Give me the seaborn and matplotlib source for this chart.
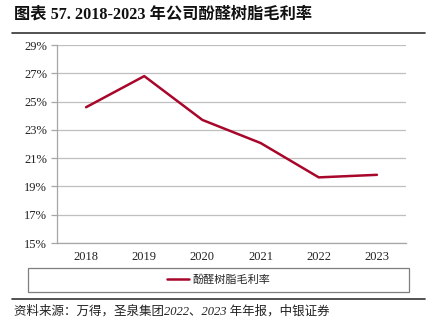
import matplotlib
matplotlib.use("Agg")
import matplotlib.pyplot as plt
import seaborn as sns
import pandas as pd
import numpy as np
from matplotlib.ticker import FixedLocator, FuncFormatter
from matplotlib.patches import Rectangle

years = ["2018", "2019", "2020", "2021", "2022", "2023"]
margin = [24.6, 26.8, 23.7, 22.07, 19.64, 19.82]
series_name = "酚醛树脂毛利率"
title = "图表 57. 2018-2023 年公司酚醛树脂毛利率"
source = "资料来源：万得，圣泉集团2022、2023 年年报，中银证券"
yticks = [15, 17, 19, 21, 23, 25, 27, 29]

sns.set_theme(style="white")
plt.rcParams["font.family"] = ["Liberation Serif", "Noto Sans CJK SC"]

df = pd.DataFrame({"year": years, "margin": margin, "series": series_name})

W, H = 436, 327
fig = plt.figure(figsize=(W / 100, H / 100), dpi=100)
ax = fig.add_axes([57 / W, 1 - 243 / H, 349 / W, 198 / H])

line_color = "#A8072B"
sns.lineplot(data=df, x="year", y="margin", hue="series", palette=[line_color],
             linewidth=1.8, ax=ax, sort=False)

ax.set_xlim(-0.5, len(years) - 0.5)
ax.set_ylim(15, 29)
ax.yaxis.set_major_locator(FixedLocator(yticks))
ax.yaxis.set_major_formatter(FuncFormatter(lambda v, p: f"{v:.0f}%"))
ax.grid(axis="y", color="#BFBFBF", linewidth=0.9)
ax.set_axisbelow(True)
ax.set_xlabel("")
ax.set_ylabel("")

for s in ["top", "right"]:
    ax.spines[s].set_visible(False)
for s in ["left", "bottom"]:
    ax.spines[s].set_color("#A6A6A6")
    ax.spines[s].set_linewidth(0.9)

ax.set_xticks(range(len(years)))
ax.set_xticklabels(years)
ax.xaxis.set_minor_locator(FixedLocator(np.arange(-0.5, len(years), 1.0)))
ax.tick_params(axis="x", which="major", length=0, pad=6, labelsize=9, colors="#222222")
ax.tick_params(axis="x", which="minor", length=4, color="#A6A6A6", width=0.9, direction="out")
ax.tick_params(axis="y", which="major", length=4, color="#A6A6A6", width=0.9,
               labelsize=9, colors="#222222", pad=3, left=True)

# legend inside a full-width framed box below the axes
fig.add_artist(Rectangle((28 / W, 1 - 292 / H), 381 / W, 24 / H, transform=fig.transFigure,
                         fill=False, edgecolor="#7F7F7F", linewidth=0.9))
handles, labels = ax.get_legend_handles_labels()
ax.get_legend().remove()
fig.legend(handles, labels, loc="center", bbox_to_anchor=(28 / W, 1 - 292 / H, 381 / W, 24 / H),
           frameon=False, handlelength=2.0, handletextpad=0.3,
           prop={"family": ["Noto Sans CJK SC"], "size": 8})

# title, separators and source note
fig.text(14 / W, 1 - 15 / H, title, fontsize=11.7, fontweight="bold",
         family=["Liberation Serif", "Noto Sans CJK SC"], va="center", ha="left", color="#111111")
fig.add_artist(plt.Line2D([12 / W, 425 / W], [1 - 33 / H] * 2, color="#333333", linewidth=1.2))
fig.add_artist(plt.Line2D([12 / W, 425 / W], [1 - 299 / H] * 2, color="#333333", linewidth=1.2))
fig.text(14 / W, 1 - 311 / H, source, fontsize=9, style="italic",
         family=["Liberation Serif", "Noto Sans CJK SC"], va="center", ha="left", color="#222222")

fig.savefig("out.png", dpi=100)
